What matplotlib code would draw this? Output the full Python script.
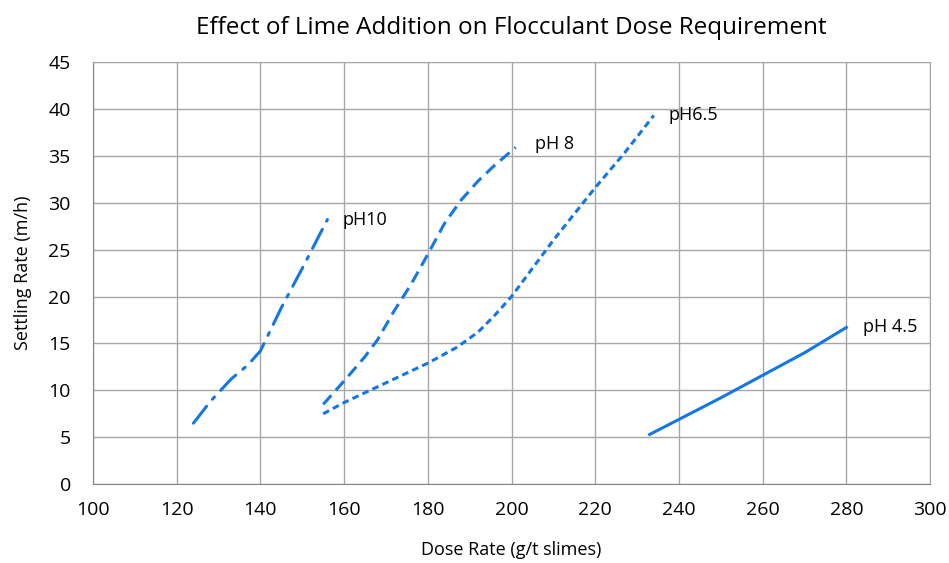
import numpy as np
import matplotlib.pyplot as plt

plt.rcParams['font.family'] = ['Open Sans', 'DejaVu Sans']

# data
ph10_x = [124, 128, 133, 137, 140, 145, 150, 156]
ph10_y = [6.5, 8.8, 11.2, 12.7, 14.2, 18.8, 23.0, 28.2]
ph8_x = [155, 160, 165, 168, 172, 176, 180, 184, 188, 192, 196, 201]
ph8_y = [8.5, 11.0, 13.6, 15.4, 18.5, 21.3, 24.5, 27.8, 30.3, 32.3, 34.0, 35.9]
ph65_x = [155, 160, 170, 180, 187, 192, 196, 200, 205, 210, 215, 220, 227, 234]
ph65_y = [7.5, 8.7, 10.8, 12.9, 14.6, 16.2, 18.0, 20.0, 23.0, 26.0, 28.8, 31.6, 35.3, 39.3]
ph45_x = [233, 240, 250, 260, 270, 280]
ph45_y = [5.3, 6.9, 9.2, 11.6, 14.0, 16.7]

labels = ['pH10', 'pH 8', 'pH6.5', 'pH 4.5']
label_pos = [(159.5, 28.2), (205.5, 36.3), (237.5, 39.3), (284, 16.7)]

blue = '#1477E3'

fig, ax = plt.subplots(figsize=(9.49, 5.63), dpi=100)
fig.subplots_adjust(left=0.098, right=0.980, bottom=0.140, top=0.890)

ax.plot(ph10_x, ph10_y, color=blue, lw=2.2, dashes=(7, 3, 1, 3), dash_capstyle='round')
ax.plot(ph8_x, ph8_y, color=blue, lw=2.2, dashes=(4, 2.2))
ax.plot(ph65_x, ph65_y, color=blue, lw=2.2, dashes=(2.2, 1.4))
ax.plot(ph45_x, ph45_y, color=blue, lw=2.2)

for lab, (x, y) in zip(labels, label_pos):
    ax.text(x, y, lab, fontsize=13, va='center', ha='left', color='black')

ax.set_xlim(100, 300)
ax.set_ylim(0, 45)
ax.set_xticks(np.arange(100, 301, 20))
ax.set_yticks(np.arange(0, 46, 5))
ax.grid(True, color='#A6A6A6', lw=1.0)
ax.set_axisbelow(True)
for s in ax.spines.values():
    s.set_color('#A6A6A6')
ax.spines['left'].set_color('#868686')
ax.spines['bottom'].set_color('#868686')
ax.tick_params(length=0, labelsize=14)
ax.tick_params(axis='x', pad=12)
ax.tick_params(axis='y', pad=16)

ax.set_xlabel('Dose Rate (g/t slimes)', fontsize=13, labelpad=16)
ax.set_ylabel('Settling Rate (m/h)', fontsize=13, labelpad=12)
ax.set_title('Effect of Lime Addition on Flocculant Dose Requirement', fontsize=17.5, pad=20)

plt.savefig('out.png', dpi=100, facecolor='white')
